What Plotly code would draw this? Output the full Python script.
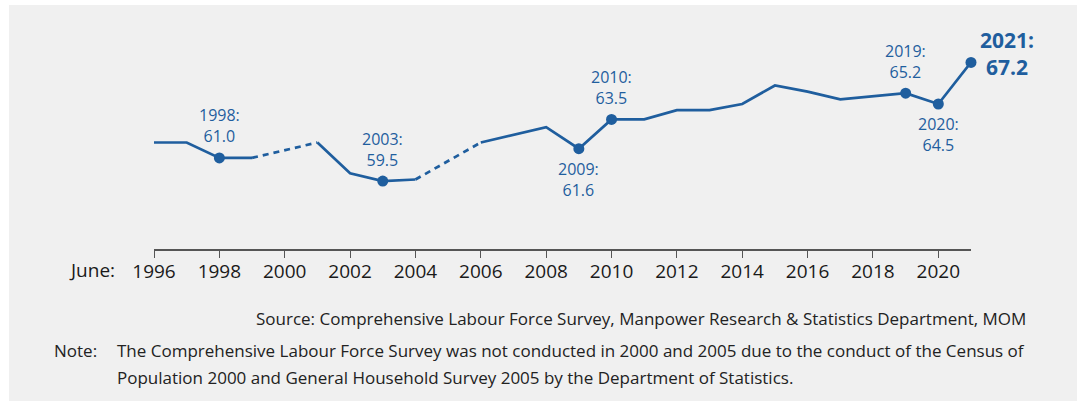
import plotly.graph_objects as go

# employment rate by year (June), no survey in 2000 and 2005
years = list(range(1996, 2022))
rate = [62.0, 62.0, 61.0, 61.0, None, 62.0, 60.0, 59.5, 59.6, None,
        62.0, 62.5, 63.0, 61.6, 63.5, 63.5, 64.1, 64.1, 64.5, 65.7,
        65.3, 64.8, 65.0, 65.2, 64.5, 67.2]

# highlighted points and where their label goes
label_years = [1998, 2003, 2009, 2010, 2019, 2020]
label_side = ['above', 'above', 'below', 'above', 'above', 'below']
last_year = 2021

tick_years = list(range(1996, 2021, 2))

source_text = "Source: Comprehensive Labour Force Survey, Manpower Research & Statistics Department, MOM"
note_line1 = "The Comprehensive Labour Force Survey was not conducted in 2000 and 2005 due to the conduct of the Census of"
note_line2 = "Population 2000 and General Household Survey 2005 by the Department of Statistics."

BLUE = '#1f5e9e'
GREY_BG = '#f0f0f0'
FONT = 'Open Sans'

W, H = 1077, 401
ML, MR, MT, MB = 154, 106, 20, 152
PW, PH = W - ML - MR, H - MT - MB


def px_x(x):
    return (x - ML) / PW


def px_y(y):
    return (H - MB - y) / PH


fig = go.Figure()

# dashed bridges over the missing years
for i, v in enumerate(rate):
    if v is None:
        fig.add_trace(go.Scatter(x=[years[i - 1], years[i + 1]],
                                 y=[rate[i - 1], rate[i + 1]],
                                 mode='lines',
                                 line=dict(color=BLUE, width=2.7, dash='6px,5px'),
                                 hoverinfo='skip', showlegend=False))

# solid line
fig.add_trace(go.Scatter(x=years, y=rate, mode='lines', connectgaps=False,
                         line=dict(color=BLUE, width=2.7),
                         showlegend=False))

# markers
mk_years = label_years + [last_year]
mk_vals = [rate[years.index(y)] for y in mk_years]
fig.add_trace(go.Scatter(x=mk_years, y=mk_vals, mode='markers',
                         marker=dict(color=BLUE, size=11),
                         cliponaxis=False, showlegend=False))

for y, side in zip(label_years, label_side):
    v = rate[years.index(y)]
    fig.add_annotation(x=y, y=v, xref='x', yref='y',
                       text=f"{y}:<br>{v:.1f}", showarrow=False,
                       yshift=32 if side == 'above' else -31,
                       font=dict(family=FONT, size=16, color=BLUE))

v = rate[years.index(last_year)]
fig.add_annotation(x=last_year, y=v, xref='x', yref='y',
                   text=f"<b>{last_year}:<br>{v:.1f}</b>", showarrow=False,
                   xshift=36, yshift=9,
                   font=dict(family=FONT, size=21, color=BLUE))

# June: label before the axis ticks
fig.add_annotation(x=px_x(117), y=px_y(270), xref='paper', yref='paper',
                   xanchor='right', yanchor='middle', text="June:", showarrow=False,
                   font=dict(family=FONT, size=19, color='#1a1a1a'))

# source and note
fig.add_annotation(x=px_x(1028), y=px_y(318), xref='paper', yref='paper',
                   xanchor='right', yanchor='middle', text=source_text, showarrow=False,
                   font=dict(family=FONT, size=17, color='#222222'))
fig.add_annotation(x=px_x(52), y=px_y(350), xref='paper', yref='paper',
                   xanchor='left', yanchor='middle', text="Note:", showarrow=False,
                   font=dict(family=FONT, size=17, color='#222222'))
fig.add_annotation(x=px_x(115), y=px_y(350), xref='paper', yref='paper',
                   xanchor='left', yanchor='middle', text=note_line1, showarrow=False,
                   font=dict(family=FONT, size=17, color='#222222'))
fig.add_annotation(x=px_x(115), y=px_y(378), xref='paper', yref='paper',
                   xanchor='left', yanchor='middle', text=note_line2, showarrow=False,
                   font=dict(family=FONT, size=17, color='#222222'))

# grey panel behind everything
fig.add_shape(type='rect', xref='paper', yref='paper', layer='below',
              x0=px_x(9), x1=px_x(W + 2), y0=px_y(5), y1=px_y(H + 2),
              fillcolor=GREY_BG, line=dict(width=0))

fig.update_layout(
    width=W, height=H,
    margin=dict(l=ML, r=MR, t=MT, b=MB, pad=0),
    paper_bgcolor='white',
    plot_bgcolor=GREY_BG,
    font=dict(family=FONT),
    showlegend=False,
)
fig.update_xaxes(range=[1996, 2021], tickvals=tick_years,
                 showline=True, linecolor='#555555', linewidth=1.5,
                 ticks='outside', ticklen=7, tickcolor='#555555', tickwidth=1.2,
                 ticklabelstandoff=-3,
                 showgrid=False, zeroline=False,
                 tickfont=dict(family=FONT, size=19, color='#1a1a1a'))
fig.update_yaxes(range=[55.09, 69.95], visible=False)

fig.write_html("out.html", config={'displayModeBar': False},
               post_script="document.body.style.margin='0';")
